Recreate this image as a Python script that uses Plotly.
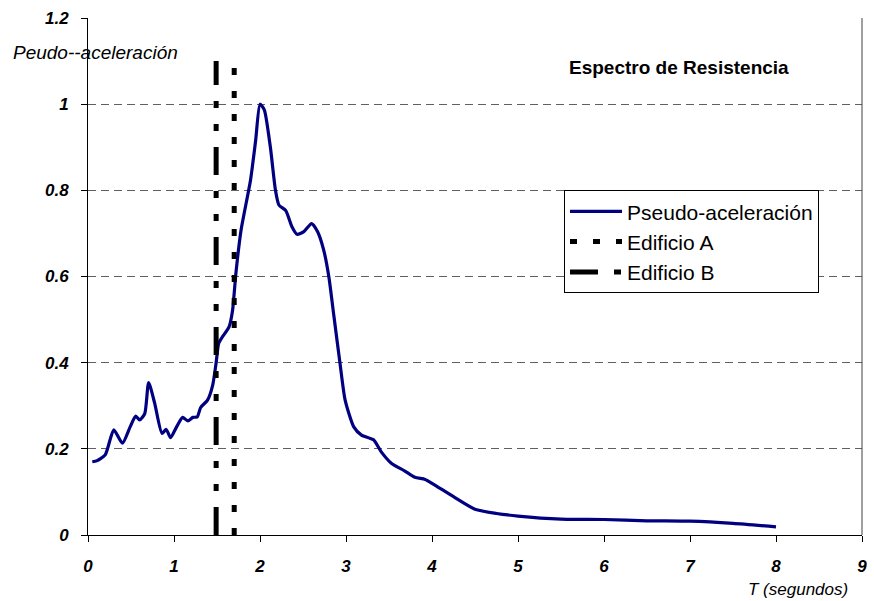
import plotly.graph_objects as go

# Espectro de resistencia: pseudo-aceleración frente al periodo T (s)
periodo = [0.05, 0.10, 0.20, 0.30, 0.40, 0.49, 0.555, 0.60, 0.66, 0.705,
           0.775, 0.86, 0.91, 0.96, 1.03, 1.10, 1.16, 1.22, 1.27, 1.31,
           1.39, 1.45, 1.49, 1.52, 1.57, 1.64, 1.68, 1.72, 1.78, 1.89,
           1.95, 2.00, 2.05, 2.12, 2.18, 2.22, 2.30, 2.37, 2.43, 2.51,
           2.60, 2.67, 2.74, 2.80, 2.86, 2.93, 2.99, 3.09, 3.18, 3.32,
           3.41, 3.53, 3.68, 3.80, 3.92, 4.00, 4.25, 4.50, 4.75, 5.00,
           5.50, 6.00, 6.50, 7.00, 7.50, 8.00]
pseudo_acel = [0.170, 0.172, 0.186, 0.244, 0.213, 0.251, 0.276, 0.267, 0.282, 0.354,
               0.306, 0.236, 0.245, 0.226, 0.251, 0.273, 0.265, 0.273, 0.274, 0.296,
               0.313, 0.348, 0.400, 0.445, 0.462, 0.483, 0.520, 0.608, 0.708, 0.824,
               0.917, 1.000, 0.987, 0.901, 0.800, 0.766, 0.753, 0.716, 0.698, 0.704,
               0.723, 0.704, 0.662, 0.600, 0.507, 0.399, 0.313, 0.251, 0.232, 0.221,
               0.193, 0.166, 0.149, 0.134, 0.129, 0.120, 0.089, 0.060, 0.050, 0.044,
               0.037, 0.036, 0.033, 0.032, 0.027, 0.019]

# Periodos fundamentales de los edificios
edificio_a_T = [1.7, 1.7]
edificio_b_T = [1.49, 1.49]
linea_vertical = [0.0, 1.1]

x_ticks = [0, 1, 2, 3, 4, 5, 6, 7, 8, 9]
y_ticks = [0, 0.2, 0.4, 0.6, 0.8, 1.0, 1.2]

FONT = "Arial, Liberation Sans, sans-serif"

fig = go.Figure()
fig.add_trace(go.Scatter(
    x=periodo, y=pseudo_acel, mode="lines", name="Pseudo-aceleración",
    line=dict(color="#000080", width=3.2, shape="spline", smoothing=0.6)))
fig.add_trace(go.Scatter(
    x=edificio_a_T, y=linea_vertical, mode="lines", name="Edificio A",
    line=dict(color="black", width=5, dash="7px,16px")))
fig.add_trace(go.Scatter(
    x=edificio_b_T, y=linea_vertical, mode="lines", name="Edificio B",
    line=dict(color="black", width=5, dash="28px,16px,7px,16px,7px,16px")))

tickfont = dict(family=FONT, size=17, color="black", weight="bold", style="italic")

fig.update_layout(
    width=874, height=601,
    margin=dict(l=88, r=7, t=18, b=66),
    paper_bgcolor="white", plot_bgcolor="white",
    showlegend=True,
    legend=dict(x=0.615, y=0.667, xanchor="left", yanchor="top",
                bgcolor="white", bordercolor="black", borderwidth=1,
                font=dict(family=FONT, size=21, color="black"),
                itemwidth=52, tracegroupgap=0),
    xaxis=dict(range=[0, 9], tickvals=x_ticks, showgrid=False, zeroline=False,
               showline=True, linecolor="black", linewidth=1,
               ticks="outside", ticklen=6, tickcolor="black",
               tickfont=tickfont, ticklabelstandoff=10),
    yaxis=dict(range=[0, 1.2], tickvals=y_ticks, showgrid=True,
               gridcolor="#606060", griddash="8px,5px", gridwidth=1,
               zeroline=False, showline=True, linecolor="black", linewidth=1,
               ticks="outside", ticklen=6, tickcolor="black",
               tickfont=tickfont, ticklabelstandoff=9),
    shapes=[dict(type="line", xref="paper", yref="paper", x0=1, x1=1, y0=0, y1=1,
                 line=dict(color="#404040", width=1))],
    annotations=[
        dict(text="Peudo--aceleración", xref="paper", yref="paper",
             x=-0.1, y=0.934, xanchor="left", yanchor="middle", showarrow=False,
             font=dict(family=FONT, size=19, color="black", style="italic")),
        dict(text="T (segundos)", xref="paper", yref="paper",
             x=0.9846, y=-0.106, xanchor="right", yanchor="middle", showarrow=False,
             font=dict(family=FONT, size=17, color="black", style="italic")),
        dict(text="<b>Espectro de Resistencia</b>", xref="paper", yref="paper",
             x=0.6187, y=0.905, xanchor="left", yanchor="middle", showarrow=False,
             font=dict(family=FONT, size=19, color="black")),
    ],
)

fig.write_html("out.html")
